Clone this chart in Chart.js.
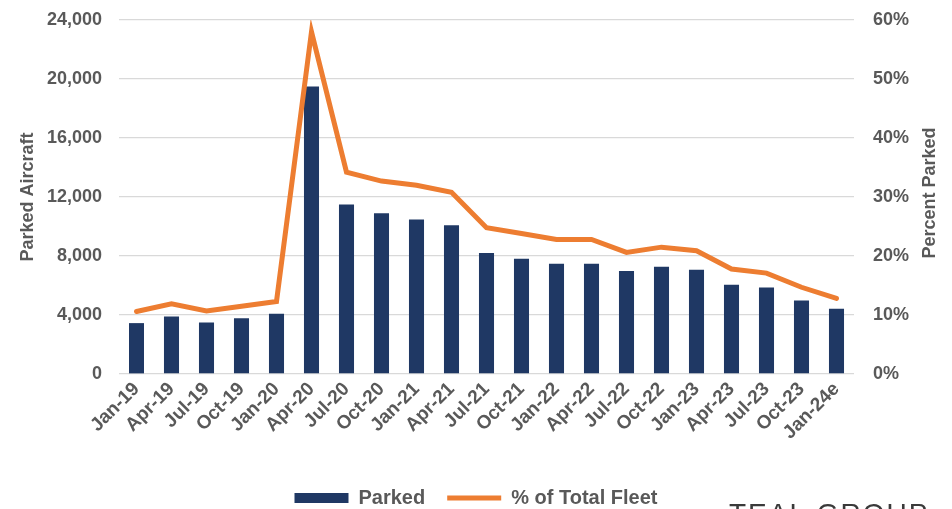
<!DOCTYPE html>
<html>
<head>
<meta charset="utf-8">
<script src="https://cdn.jsdelivr.net/npm/chart.js@4.4.1/dist/chart.umd.min.js"></script>
<style>
  html, body { margin: 0; padding: 0; background: #fff; }
  #wrap { position: relative; width: 952px; height: 509px; }
</style>
</head>
<body>
<div id="wrap"><canvas id="parkedChart"></canvas></div>
<script>
const quarters = ['Jan-19','Apr-19','Jul-19','Oct-19','Jan-20','Apr-20','Jul-20','Oct-20','Jan-21','Apr-21',
  'Jul-21','Oct-21','Jan-22','Apr-22','Jul-22','Oct-22','Jan-23','Apr-23','Jul-23','Oct-23','Jan-24e'];

// parked aircraft count
const parkedAircraft = [3450, 3900, 3500, 3780, 4080, 19500, 11500, 10900, 10470, 10080,
  8200, 7820, 7480, 7480, 6980, 7270, 7070, 6050, 5870, 4980, 4420];

// % of total fleet parked
const pctOfFleet = [10.6, 11.9, 10.7, 11.5, 12.3, 58.0, 34.2, 32.7, 32.0, 30.8,
  24.8, 23.8, 22.8, 22.8, 20.6, 21.5, 20.9, 17.8, 17.1, 14.7, 12.8];

const leftTicks = { min: 0, max: 24000, step: 4000 };
const rightTicks = { min: 0, max: 60, step: 10 };

const grey = '#595959';
const navy = '#1F3864';
const orange = '#ED7D31';
const fontFam = "'Liberation Sans', Arial, sans-serif";

// right axis title reads bottom-to-top, and the logo text
const extraText = {
  id: 'extraText',
  afterDraw(chart) {
    const ctx = chart.ctx;
    ctx.save();
    ctx.fillStyle = grey;
    ctx.font = 'bold 18px ' + fontFam;
    ctx.textAlign = 'center';
    ctx.textBaseline = 'middle';
    ctx.translate(930, 193);
    ctx.rotate(-Math.PI / 2);
    ctx.fillText('Percent Parked', 0, 0);
    ctx.restore();

    ctx.save();
    ctx.fillStyle = '#3a3a3a';
    ctx.font = '28px ' + fontFam;
    ctx.letterSpacing = '2px';
    ctx.textAlign = 'left';
    ctx.textBaseline = 'alphabetic';
    ctx.fillText('TEAL GROUP', 729, 523);
    ctx.restore();
  }
};

function noVertPad(scale) {
  scale.paddingTop = 0;
  scale.paddingBottom = 0;
}

new Chart(document.getElementById('parkedChart'), {
  data: {
    labels: quarters,
    datasets: [
      {
        type: 'bar',
        label: 'Parked',
        data: parkedAircraft,
        backgroundColor: navy,
        borderWidth: 0,
        barPercentage: 0.43,
        categoryPercentage: 1,
        pointStyle: 'rect',
        yAxisID: 'y',
        order: 1
      },
      {
        type: 'line',
        label: '% of Total Fleet',
        data: pctOfFleet,
        borderColor: orange,
        backgroundColor: orange,
        borderWidth: 5,
        borderCapStyle: 'round',
        pointRadius: 0,
        pointStyle: 'line',
        tension: 0,
        yAxisID: 'y1',
        order: 0
      }
    ]
  },
  options: {
    responsive: true,
    maintainAspectRatio: false,
    animation: false,
    layout: { padding: { top: 20, left: 0, right: 0, bottom: -9 } },
    plugins: {
      tooltip: { enabled: false },
      legend: {
        position: 'bottom',
        reverse: true,
        labels: {
          usePointStyle: true,
          pointStyleWidth: 54,
          boxHeight: 10,
          padding: 22,
          color: grey,
          font: { family: fontFam, size: 20, weight: 'bold' }
        }
      }
    },
    scales: {
      x: {
        grid: { display: false, drawTicks: false },
        border: { display: false },
        ticks: {
          color: grey,
          font: { family: fontFam, size: 19, weight: 'bold' },
          minRotation: 45,
          maxRotation: 45,
          autoSkip: false,
          padding: 4
        },
        afterFit(scale) { scale.height = 92; }
      },
      y: {
        position: 'left',
        min: leftTicks.min,
        max: leftTicks.max,
        grid: { color: '#d9d9d9', lineWidth: 1.3, drawTicks: false },
        border: { display: false },
        ticks: {
          stepSize: leftTicks.step,
          color: grey,
          padding: 17,
          font: { family: fontFam, size: 18, weight: 'bold' },
          callback: v => v.toLocaleString('en-US')
        },
        title: {
          display: true,
          text: 'Parked Aircraft',
          color: grey,
          padding: { top: 17, bottom: 0 },
          font: { family: fontFam, size: 18, weight: 'bold' }
        },
        afterFit(scale) { scale.width = 119; noVertPad(scale); }
      },
      y1: {
        position: 'right',
        min: rightTicks.min,
        max: rightTicks.max,
        grid: { display: false, drawTicks: false },
        border: { display: false },
        ticks: {
          stepSize: rightTicks.step,
          color: grey,
          padding: 19,
          font: { family: fontFam, size: 18, weight: 'bold' },
          callback: v => v + '%'
        },
        afterFit(scale) { scale.width = 98; noVertPad(scale); }
      }
    }
  },
  plugins: [extraText]
});
</script>
</body>
</html>
